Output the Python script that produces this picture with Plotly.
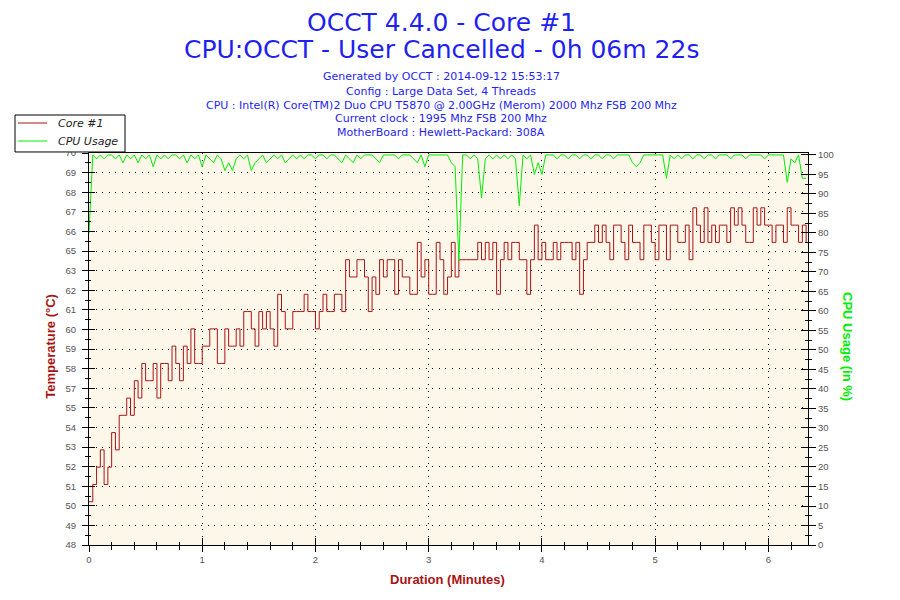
#!/usr/bin/env python3
import numpy as np
import plotly.graph_objects as go

# ---------------------- Data ----------------------
# one sample every 2 seconds, 0 .. 380 s
SAMPLE_STEP_S = 2

core1_temp = [
    50, 51, 52, 53, 51, 52, 54, 53, 55, 55,
    56, 55, 57, 56, 58, 57, 57, 58, 56, 58,
    58, 57, 59, 58, 57, 59, 58, 60, 58, 58,
    59, 59, 60, 60, 58, 58, 60, 59, 59, 60,
    59, 61, 61, 60, 59, 61, 60, 61, 60, 59,
    62, 61, 60, 60, 61, 61, 61, 62, 61, 61,
    60, 61, 62, 61, 61, 62, 62, 61, 64, 63,
    63, 64, 64, 63, 61, 63, 62, 64, 63, 64,
    64, 62, 64, 63, 63, 62, 62, 65, 63, 64,
    62, 62, 65, 64, 62, 63, 65, 63, 64, 64,
    64, 64, 64, 65, 64, 65, 64, 65, 62, 64,
    65, 64, 65, 65, 64, 64, 62, 64, 66, 64,
    65, 64, 64, 65, 64, 65, 65, 65, 64, 65,
    62, 64, 65, 65, 66, 65, 66, 65, 64, 66,
    66, 65, 64, 66, 65, 65, 64, 66, 66, 65,
    64, 66, 66, 64, 66, 66, 65, 65, 66, 64,
    67, 66, 65, 67, 65, 66, 65, 66, 66, 65,
    67, 66, 67, 66, 65, 65, 67, 66, 67, 66,
    66, 65, 66, 66, 65, 67, 66, 66, 65, 66,
    65,
]

cpu_usage = [
    80, 100, 99, 100, 99, 100, 100, 99, 100, 98,
    100, 99, 100, 98, 100, 99, 100, 97, 100, 99,
    100, 99, 100, 100, 99, 100, 98, 100, 99, 100,
    97, 100, 99, 98, 100, 99, 96, 98, 96, 99,
    100, 99, 100, 96, 98, 99, 100, 98, 99, 100,
    99, 100, 98, 99, 100, 99, 100, 99, 100, 100,
    99, 100, 100, 99, 100, 100, 99, 98, 100, 99,
    98, 100, 99, 100, 100, 100, 99, 98, 100, 100,
    100, 100, 99, 100, 100, 100, 99, 98, 100, 97,
    100, 100, 100, 100, 100, 100, 98, 97, 73, 100,
    100, 99, 100, 99, 89, 99, 100, 99, 100, 99,
    100, 99, 100, 99, 87, 100, 99, 100, 95, 98,
    95, 100, 100, 100, 99, 100, 100, 99, 100, 100,
    99, 100, 100, 99, 100, 100, 99, 100, 100, 99,
    100, 100, 100, 100, 98, 97, 98, 100, 100, 100,
    100, 100, 100, 94, 100, 99, 100, 99, 100, 100,
    99, 100, 100, 99, 100, 100, 99, 100, 100, 100,
    99, 100, 100, 100, 99, 100, 100, 100, 100, 99,
    100, 100, 100, 100, 100, 93, 99, 98, 100, 94,
    94,
]

temp_tick_labels = ["48", "49", "50", "51", "52", "53", "54", "55", "57", "58",
                    "59", "60", "61", "62", "63", "65", "66", "67", "68", "69", "70"]
cpu_tick_labels = [str(v) for v in range(0, 101, 5)]

header_lines = [
    "Generated by OCCT : 2014-09-12 15:53:17",
    "Config : Large Data Set, 4 Threads",
    "CPU : Intel(R) Core(TM)2 Duo CPU T5870 @ 2.00GHz (Merom) 2000 Mhz FSB 200 Mhz",
    "Current clock : 1995 Mhz FSB 200 Mhz",
    "MotherBoard : Hewlett-Packard: 308A",
]

series_names = ["Core #1", "CPU Usage"]

# ---------------------- Style ----------------------
RED = "#A81414"
GREEN = "#00EE00"
BLUE = "#1F1FEF"
GREY = "#555555"
CREAM = "#FDF7EA"
GRID_DASH = "1px,5.6px"

T_MIN, T_MAX = 47.5, 70.17
X_MAX = 6.35
CPU_MAX = 100.5

minutes = np.arange(len(core1_temp)) * SAMPLE_STEP_S / 60.0
temp_ticks = np.linspace(T_MIN, T_MAX, len(temp_tick_labels))
temp_minor = (temp_ticks[:-1] + temp_ticks[1:]) / 2

fig = go.Figure()

fig.add_trace(go.Scatter(
    x=minutes, y=core1_temp, mode="lines", name=series_names[0],
    line=dict(color=RED, width=1, shape="hv"), yaxis="y",
))
fig.add_trace(go.Scatter(
    x=minutes, y=cpu_usage, mode="lines", name=series_names[1],
    line=dict(color=GREEN, width=1), yaxis="y2",
))
# empty traces so the "inside" tick axes get drawn (ticks cross the axis lines)
fig.add_trace(go.Scatter(x=[None], y=[None], xaxis="x2", yaxis="y3",
                         showlegend=False, hoverinfo="skip"))
fig.add_trace(go.Scatter(x=[None], y=[None], xaxis="x", yaxis="y4",
                         showlegend=False, hoverinfo="skip"))

tick_font = dict(family="Liberation Sans, Arial", size=9.5, color=GREY)

# page body has an 8px margin, so the figure is 8px smaller and shifted
fig.update_layout(
    width=892, height=592,
    margin=dict(l=81, r=92, t=145, b=55, autoexpand=False),
    paper_bgcolor="white",
    plot_bgcolor=CREAM,
    showlegend=False,
    xaxis=dict(
        range=[0, X_MAX], dtick=1, tick0=0,
        ticks="outside", ticklen=6, tickcolor="black", tickwidth=1,
        minor=dict(dtick=0.2, ticks="outside", ticklen=4, tickcolor="black", showgrid=False),
        showgrid=True, gridcolor="black", gridwidth=1, griddash=GRID_DASH,
        zeroline=False, showline=True, linecolor="black", linewidth=1, mirror=True,
        tickfont=tick_font,
    ),
    xaxis2=dict(
        range=[0, X_MAX], dtick=1, tick0=0, overlaying="x", anchor="y3",
        ticks="inside", ticklen=7, tickcolor="black",
        minor=dict(dtick=0.2, ticks="inside", ticklen=3, tickcolor="black", showgrid=False),
        showticklabels=False, showgrid=False, zeroline=False,
    ),
    yaxis=dict(
        range=[T_MIN, T_MAX], tickmode="array",
        tickvals=temp_ticks, ticktext=temp_tick_labels,
        ticks="outside", ticklen=6, tickcolor="black",
        minor=dict(tickmode="array", tickvals=temp_minor, ticks="outside",
                   ticklen=3, tickcolor="black", showgrid=False),
        showgrid=True, gridcolor="black", gridwidth=1, griddash=GRID_DASH,
        zeroline=False, showline=True, linecolor="black", linewidth=1, mirror=True,
        tickfont=tick_font, ticklabelstandoff=4,
    ),
    yaxis2=dict(
        range=[0, CPU_MAX], overlaying="y", side="right", anchor="x",
        tickmode="array", tickvals=list(range(0, 101, 5)), ticktext=cpu_tick_labels,
        ticks="outside", ticklen=7, tickcolor="black",
        minor=dict(dtick=2.5, ticks="outside", ticklen=3, tickcolor="black", showgrid=False),
        showgrid=False, zeroline=False, showline=True, linecolor="black",
        tickfont=tick_font,
    ),
    yaxis3=dict(
        range=[T_MIN, T_MAX], overlaying="y", side="left", anchor="x2",
        tickmode="array", tickvals=temp_ticks,
        ticks="inside", ticklen=6, tickcolor="black",
        minor=dict(tickmode="array", tickvals=temp_minor, ticks="inside",
                   ticklen=2, tickcolor="black", showgrid=False),
        showticklabels=False, showgrid=False, zeroline=False,
    ),
    yaxis4=dict(
        range=[0, CPU_MAX], overlaying="y", side="right", anchor="x",
        tickmode="array", tickvals=list(range(0, 101, 5)),
        ticks="inside", ticklen=7, tickcolor="black",
        minor=dict(dtick=2.5, ticks="inside", ticklen=3, tickcolor="black", showgrid=False),
        showticklabels=False, showgrid=False, zeroline=False,
    ),
)

# ---------------------- Legend (drawn by hand, tight box) ----------------------
fig.add_shape(type="rect", xref="paper", yref="paper",
              x0=-0.1029, x1=0.0501, y0=1.0026, y1=1.0969,
              fillcolor="white", line=dict(color="black", width=1), layer="above")
for name, color, yy in zip(series_names, [RED, GREEN], [1.0765, 1.0306]):
    fig.add_shape(type="line", xref="paper", yref="paper",
                  x0=-0.0987, x1=-0.0584, y0=yy, y1=yy,
                  line=dict(color=color, width=1), layer="above")
    fig.add_annotation(text=name, xref="paper", yref="paper", x=-0.0459, y=yy,
                       xanchor="left", yanchor="middle", showarrow=False,
                       font=dict(family="DejaVu Sans", size=11, color="#222222",
                                 style="italic"))

# ---------------------- Titles ----------------------
title_font = dict(family="DejaVu Sans", size=25, color=BLUE)
fig.add_annotation(text="OCCT 4.4.0 - Core #1", xref="paper", yref="paper",
                   x=0.4896, y=1.334, xanchor="center", yanchor="middle",
                   showarrow=False, font=title_font)
fig.add_annotation(text="CPU:OCCT - User Cancelled - 0h 06m 22s", xref="paper", yref="paper",
                   x=0.4896, y=1.2628, xanchor="center", yanchor="middle",
                   showarrow=False, font=title_font)

header_y = [1.194, 1.158, 1.122, 1.087, 1.053]
for line, yy in zip(header_lines, header_y):
    fig.add_annotation(text=line, xref="paper", yref="paper", x=0.4896, y=yy,
                       xanchor="center", yanchor="middle", showarrow=False,
                       font=dict(family="DejaVu Sans", size=11, color=BLUE))

axis_title_font = dict(family="Liberation Sans, Arial", size=13, weight="bold")
fig.add_annotation(text="Temperature (°C)", xref="paper", yref="paper",
                   x=-0.053, y=0.508, textangle=-90, xanchor="center", yanchor="middle",
                   showarrow=False, font=dict(axis_title_font, color=RED))
fig.add_annotation(text="CPU Usage (in %)", xref="paper", yref="paper",
                   x=1.0556, y=0.505, textangle=90, xanchor="center", yanchor="middle",
                   showarrow=False, font=dict(axis_title_font, color=GREEN))
fig.add_annotation(text="Duration (Minutes)", xref="paper", yref="paper",
                   x=0.4980, y=-0.089, xanchor="center", yanchor="middle",
                   showarrow=False, font=dict(axis_title_font, color=RED))

fig.write_html("out.html")
print("[✓] written out.html")
